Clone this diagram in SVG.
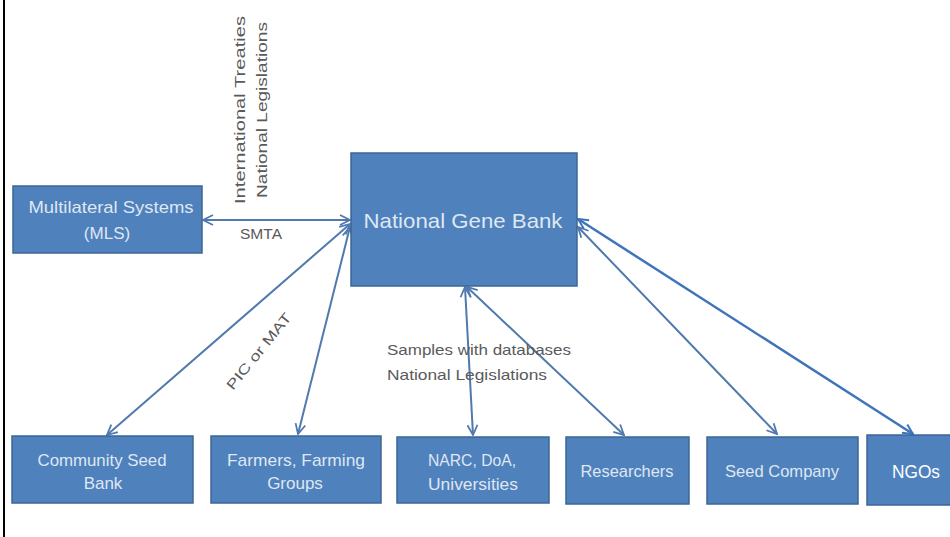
<svg xmlns="http://www.w3.org/2000/svg" width="950" height="537" viewBox="0 0 950 537">
<style>
.box{fill:#4f81bd;stroke:#3b6696;stroke-width:1.5}
.bt{font-family:"Liberation Sans",Arial,sans-serif;fill:#dfe7f2;text-anchor:middle;dominant-baseline:central}
.lbl{font-family:"Liberation Sans",Arial,sans-serif;fill:#5a5a5a}
.con{stroke:#5079ad;stroke-width:2;fill:none;marker-start:url(#ah);marker-end:url(#ah)}
</style>
<defs>
<marker id="ah" viewBox="0 0 12 12" refX="11" refY="6" markerWidth="12" markerHeight="12" markerUnits="userSpaceOnUse" orient="auto-start-reverse">
<path d="M1,1 L11,6 L1,11" fill="none" stroke="#5079ad" stroke-width="1.8"/>
</marker>
<marker id="ah2" viewBox="0 0 12 12" refX="11" refY="6" markerWidth="12" markerHeight="12" markerUnits="userSpaceOnUse" orient="auto-start-reverse">
<path d="M1,1 L11,6 L1,11" fill="none" stroke="#3f74bb" stroke-width="2"/>
</marker>
</defs>
<rect width="950" height="537" fill="#ffffff"/>
<line x1="4" y1="0" x2="4" y2="537" stroke="#000" stroke-width="2"/>
<g id="connectors">
<line class="con" x1="203" y1="220" x2="350" y2="220"/>
<line class="con" x1="350" y1="224" x2="107" y2="435"/>
<line class="con" x1="350" y1="227" x2="298" y2="434"/>
<line class="con" x1="465" y1="287" x2="473" y2="435"/>
<line class="con" x1="467" y1="287" x2="624" y2="435"/>
<line class="con" x1="578" y1="227" x2="777" y2="434"/>
<line x1="578" y1="219" x2="913" y2="434" stroke="#3f74bb" stroke-width="2.5" marker-start="url(#ah2)" marker-end="url(#ah2)"/>
</g>
<g id="labels">
<text class="lbl" font-size="15" transform="translate(245,204) rotate(-90)" textLength="188" lengthAdjust="spacingAndGlyphs">International Treaties</text>
<text class="lbl" font-size="15" transform="translate(267,198) rotate(-90)" textLength="176" lengthAdjust="spacingAndGlyphs">National Legislations</text>
<text class="lbl" font-size="14" x="240" y="239" textLength="42" lengthAdjust="spacingAndGlyphs">SMTA</text>
<text class="lbl" font-size="14" transform="translate(233,391) rotate(-51)" textLength="94" lengthAdjust="spacingAndGlyphs">PIC or MAT</text>
<text class="lbl" font-size="15" x="387" y="355" textLength="184" lengthAdjust="spacingAndGlyphs">Samples with databases</text>
<text class="lbl" font-size="15" x="387" y="380" textLength="160" lengthAdjust="spacingAndGlyphs">National Legislations</text>
</g>
<g id="mls">
<rect class="box" x="13" y="186" width="189" height="67"/>
<text class="bt" font-size="17" x="111" y="207" textLength="165" lengthAdjust="spacingAndGlyphs">Multilateral Systems</text>
<text class="bt" font-size="17" x="107" y="233">(MLS)</text>
</g>
<g id="ngb">
<rect class="box" x="351" y="153" width="226" height="133"/>
<text class="bt" font-size="21" x="463" y="220" textLength="199" lengthAdjust="spacingAndGlyphs">National Gene Bank</text>
</g>
<g id="csb">
<rect class="box" x="12" y="436" width="181" height="67"/>
<text class="bt" font-size="17" x="102" y="460" textLength="129" lengthAdjust="spacingAndGlyphs">Community Seed</text>
<text class="bt" font-size="17" x="103" y="483">Bank</text>
</g>
<g id="farmers">
<rect class="box" x="211" y="436" width="170" height="67"/>
<text class="bt" font-size="17" x="296" y="460" textLength="138" lengthAdjust="spacingAndGlyphs">Farmers, Farming</text>
<text class="bt" font-size="17" x="295" y="483">Groups</text>
</g>
<g id="narc">
<rect class="box" x="397" y="437" width="152" height="66"/>
<text class="bt" font-size="17" x="472" y="460" textLength="88" lengthAdjust="spacingAndGlyphs">NARC, DoA,</text>
<text class="bt" font-size="17" x="473" y="484" textLength="90" lengthAdjust="spacingAndGlyphs">Universities</text>
</g>
<g id="researchers">
<rect class="box" x="566" y="437" width="123" height="67"/>
<text class="bt" font-size="17" x="627" y="471" textLength="93" lengthAdjust="spacingAndGlyphs">Researchers</text>
</g>
<g id="seedco">
<rect class="box" x="707" y="437" width="151" height="67"/>
<text class="bt" font-size="17" x="782" y="471" textLength="114" lengthAdjust="spacingAndGlyphs">Seed Company</text>
</g>
<g id="ngos">
<rect class="box" x="867" y="435" width="90" height="70"/>
<text class="bt" font-size="18" x="916" y="472" style="fill:#ffffff" textLength="48" lengthAdjust="spacingAndGlyphs">NGOs</text>
</g>
</svg>
